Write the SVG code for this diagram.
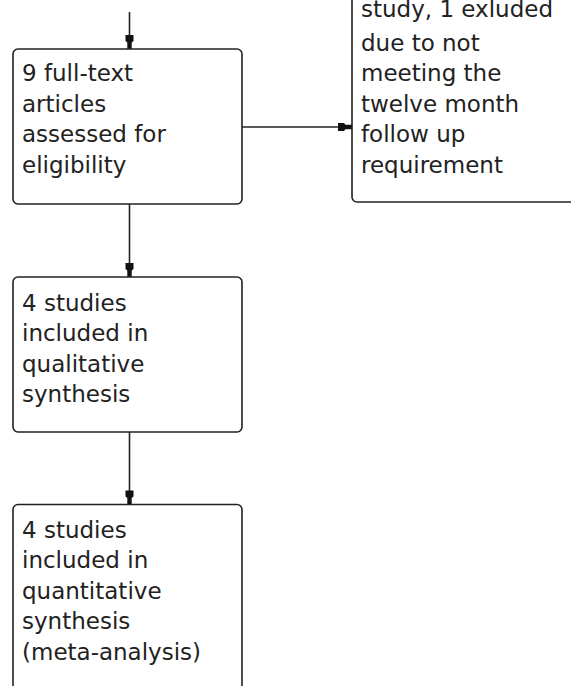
<svg xmlns="http://www.w3.org/2000/svg" width="571" height="686" viewBox="0 0 571 686">
<style>
.box{fill:#fff;stroke:#222;stroke-width:1.6}
.lbl{font-family:"DejaVu Sans",Verdana,sans-serif;font-size:23px;fill:#222}
.con{stroke:#222;stroke-width:1.6;fill:none}
</style>
<defs>
<marker id="ah" markerUnits="userSpaceOnUse" viewBox="0 0 16 10" markerWidth="16" markerHeight="10" refX="15" refY="5" orient="auto">
<path d="M1,1 L7,1 L8.5,2.8 L15,2.8 L15,7.2 L8.5,7.2 L7,9 L1,9 Z" fill="#111"/>
</marker>
</defs>
<rect width="571" height="686" fill="#fff"/>
<g id="connectors">
<line class="con" x1="129.5" y1="12" x2="129.5" y2="49" marker-end="url(#ah)"/>
<line class="con" x1="242" y1="127" x2="352" y2="127" marker-end="url(#ah)"/>
<line class="con" x1="129.5" y1="204" x2="129.5" y2="277" marker-end="url(#ah)"/>
<line class="con" x1="129.5" y1="432" x2="129.5" y2="504.5" marker-end="url(#ah)"/>
</g>
<g id="node-fulltext">
<rect class="box" x="13" y="49" width="229" height="155" rx="5"/>
<text class="lbl"><tspan x="22" y="81">9 full-text</tspan><tspan x="22" y="111.5">articles</tspan><tspan x="22" y="142">assessed for</tspan><tspan x="22" y="172.5">eligibility</tspan></text>
</g>
<g id="node-excluded">
<rect class="box" x="352" y="-20" width="240" height="222" rx="5"/>
<text class="lbl"><tspan x="361" y="17">study, 1 exluded</tspan><tspan x="361" y="50.5">due to not</tspan><tspan x="361" y="81">meeting the</tspan><tspan x="361" y="111.5">twelve month</tspan><tspan x="361" y="142">follow up</tspan><tspan x="361" y="172.5">requirement</tspan></text>
</g>
<g id="node-qualitative">
<rect class="box" x="13" y="277" width="229" height="155" rx="5"/>
<text class="lbl"><tspan x="22" y="310.5">4 studies</tspan><tspan x="22" y="341">included in</tspan><tspan x="22" y="371.5">qualitative</tspan><tspan x="22" y="402">synthesis</tspan></text>
</g>
<g id="node-quantitative">
<rect class="box" x="13" y="504.5" width="229" height="220" rx="5"/>
<text class="lbl"><tspan x="22" y="537.5">4 studies</tspan><tspan x="22" y="568">included in</tspan><tspan x="22" y="598.5">quantitative</tspan><tspan x="22" y="629">synthesis</tspan><tspan x="22" y="659.5">(meta-analysis)</tspan></text>
</g>
</svg>
